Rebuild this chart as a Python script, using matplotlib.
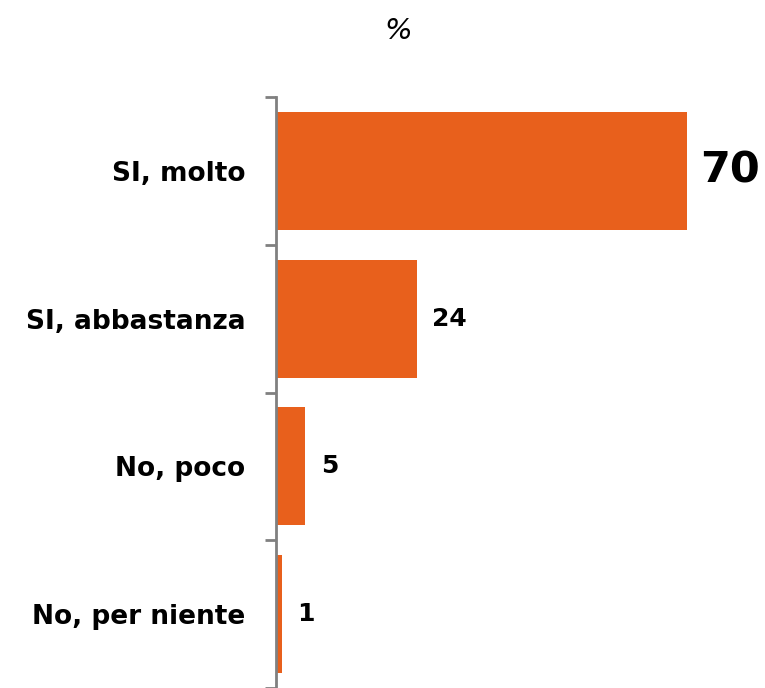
import matplotlib.pyplot as plt
import numpy as np

# Survey answers and percentages
categories = ['SI, molto', 'SI, abbastanza', 'No, poco', 'No, per niente']
values = [70, 24, 5, 1]

bar_color = '#E8601C'
axis_color = '#808080'

fig = plt.figure(figsize=(7.65, 6.88), dpi=100)
ax = fig.add_axes([276 / 765, 0.0, 1 - 276 / 765, 1 - 97 / 688])

y = np.arange(len(categories))
ax.barh(y, values, height=0.8, color=bar_color)
ax.set_ylim(len(categories) - 0.5, -0.5)
ax.set_xlim(0, 83.3)

# value labels, the first one big
for i, v in enumerate(values):
    if i == 0:
        ax.text(v + 2.2, i, str(v), va='center', ha='left', fontsize=31, fontweight='bold')
    else:
        ax.text(v + 2.6, i, str(v), va='center', ha='left', fontsize=18, fontweight='bold')

# ticks sit on the category boundaries
ax.set_yticks(np.arange(-0.5, len(categories), 1))
ax.set_yticklabels([])
ax.set_yticks(y, minor=True)
ax.set_yticklabels(categories, minor=True, fontsize=19, fontweight='bold')
ax.tick_params(axis='y', which='minor', length=0, pad=22)
ax.tick_params(axis='y', which='major', length=8, width=2, color=axis_color)
ax.set_xticks([])

for side in ['top', 'right', 'bottom']:
    ax.spines[side].set_visible(False)
ax.spines['left'].set_color(axis_color)
ax.spines['left'].set_linewidth(2)

fig.text(398 / 765, 1 - 31 / 688, '%', ha='center', va='center', fontsize=21, style='italic')

fig.savefig('out.png', dpi=100)
